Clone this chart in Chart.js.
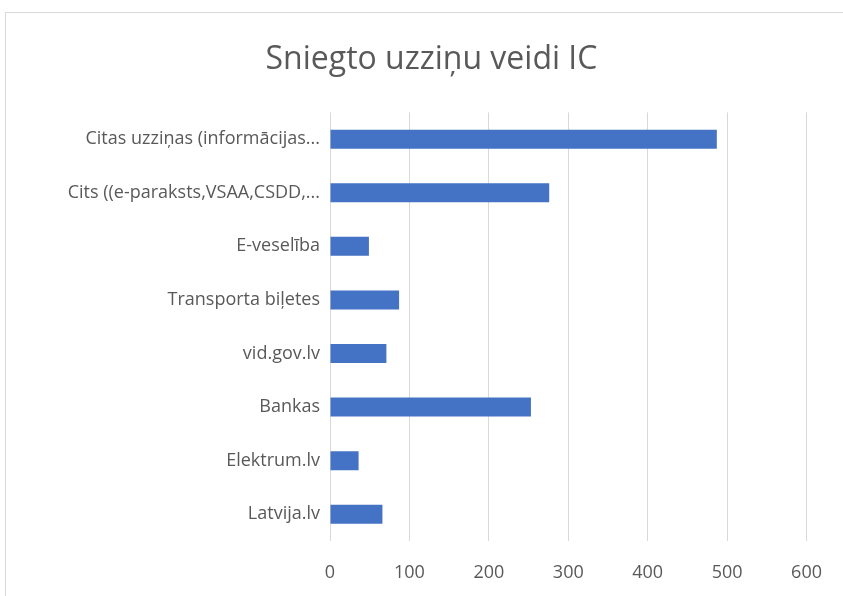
<!DOCTYPE html>
<html>
<head>
<meta charset="utf-8">
<script src="https://cdn.jsdelivr.net/npm/chart.js@4"></script>
<style>
  html, body { margin: 0; padding: 0; background: #fff; overflow: hidden; }
  #wrap { position: relative; width: 843px; height: 596px; }
  #frame { position: absolute; left: 5px; top: 12px; width: 900px; height: 700px; border: 1px solid #d9d9d9; }
  canvas { position: absolute; left: 0; top: 0; }
</style>
</head>
<body>
<div id="wrap">
  <div id="frame"></div>
  <canvas id="chart" width="843" height="596"></canvas>
</div>
<script>
const title = 'Sniegto uzziņu veidi IC';
const labels = [
  'Citas uzziņas (informācijas...',
  'Cits ((e-paraksts,VSAA,CSDD,...',
  'E-veselība',
  'Transporta biļetes',
  'vid.gov.lv',
  'Bankas',
  'Elektrum.lv',
  'Latvija.lv'
];
const values = [487, 276, 49, 87, 71, 253, 36, 66];
const xTicks = [0, 100, 200, 300, 400, 500, 600];

const ctx = document.getElementById('chart').getContext('2d');

const myChart = new Chart(ctx, {
  type: 'bar',
  data: {
    labels: labels,
    datasets: [{
      label: title,
      data: values,
      backgroundColor: '#4472C4',
      borderWidth: 0,
      categoryPercentage: 1,
      barPercentage: 0.355
    }]
  },
  options: {
    indexAxis: 'y',
    responsive: false,
    animation: false,
    layout: { padding: { left: 56, right: 36, top: 0, bottom: 0 } },
    plugins: {
      legend: { display: false },
      tooltip: { enabled: false },
      title: {
        display: true,
        text: title,
        color: '#595959',
        font: { family: 'Open Sans', size: 32, weight: 'normal' },
        padding: { top: 41, bottom: 33 }
      }
    },
    scales: {
      x: {
        min: xTicks[0],
        max: xTicks[xTicks.length - 1],
        afterBuildTicks: (scale) => { scale.ticks = xTicks.map(v => ({ value: v })); },
        afterFit: (scale) => { scale.height = 55; },
        grid: { color: '#d9d9d9', lineWidth: 1, drawTicks: false },
        border: { display: false },
        ticks: {
          color: '#595959',
          padding: 21,
          font: { family: 'Open Sans', size: 18 }
        }
      },
      y: {
        afterFit: (scale) => { scale.width = 274; },
        grid: { display: false, drawTicks: false },
        border: { display: false },
        ticks: {
          color: '#595959',
          padding: 10,
          autoSkip: false,
          font: { family: 'Open Sans', size: 18 }
        }
      }
    }
  }
});
</script>
</body>
</html>
